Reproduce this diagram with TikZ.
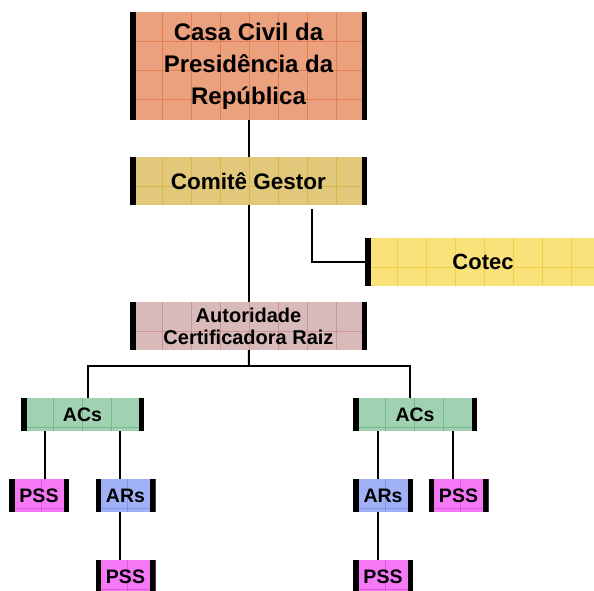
\documentclass[tikz,border=0pt]{standalone}
\usepackage{fontspec}
\setmainfont{Liberation Sans}
\definecolor{casaFill}{RGB}{235,160,126}
\definecolor{casaGrid}{RGB}{218,110,60}
\definecolor{comFill}{RGB}{226,200,122}
\definecolor{comGrid}{RGB}{214,172,50}
\definecolor{cotFill}{RGB}{250,226,122}
\definecolor{cotGrid}{RGB}{236,196,50}
\definecolor{acrFill}{RGB}{216,186,186}
\definecolor{acrGrid}{RGB}{198,128,128}
\definecolor{acsFill}{RGB}{160,210,178}
\definecolor{acsGrid}{RGB}{96,172,124}
\definecolor{pssFill}{RGB}{245,120,245}
\definecolor{pssGrid}{RGB}{216,64,216}
\definecolor{arsFill}{RGB}{160,178,245}
\definecolor{arsGrid}{RGB}{112,132,230}
\begin{document}
\begin{tikzpicture}[x=1pt, y=-1pt, line width=2pt]
	\tikzset{box/.style n args={2}{fill=#1, inner sep=0pt, outer sep=0pt, align=center,
		path picture={
			\foreach \k in {0,...,8}{
				\draw[#2!65!#1, line width=0.6pt] ([xshift=32+29*\k]path picture bounding box.south west) -- ([xshift=32+29*\k]path picture bounding box.north west);
				\draw[#2!65!#1, line width=0.6pt] ([yshift=-29-29*\k]path picture bounding box.north west) -- ([yshift=-29-29*\k]path picture bounding box.north east);
			}
			\fill[black] (path picture bounding box.south west) rectangle ([xshift=5.5]path picture bounding box.north west);
			\fill[black] (path picture bounding box.south east) rectangle ([xshift=-5.5]path picture bounding box.north east);
		}}}
	\tikzset{big/.style={minimum width=237pt, minimum height=48pt}}
	\tikzset{small/.style={minimum width=60pt, minimum height=33pt, font=\bfseries\fontsize{19.5}{22}\selectfont}}

	\useasboundingbox (0,0) rectangle (594,590);

	\node[box={casaFill}{casaGrid}, minimum width=237pt, minimum height=108pt, font=\bfseries\fontsize{24}{32}\selectfont] (casa) at (248.5,66) {Casa Civil da\\Presidência da\\República};
	\node[box={comFill}{comGrid}, big, font=\bfseries\fontsize{22.5}{26}\selectfont] (comite) at (248.5,181) {Comitê Gestor};
	\node[box={cotFill}{cotGrid}, big, minimum width=236pt, font=\bfseries\fontsize{22}{26}\selectfont] (cotec) at (483,262) {Cotec};
	\node[box={acrFill}{acrGrid}, big, font=\bfseries\fontsize{20}{22}\selectfont] (acr) at (248.5,326) {Autoridade\\Certificadora Raiz};

	\node[box={acsFill}{acsGrid}, small, minimum width=123pt] (acsL) at (82.5,414.5) {ACs};
	\node[box={acsFill}{acsGrid}, small, minimum width=124pt] (acsR) at (415,414.5) {ACs};

	\node[box={pssFill}{pssGrid}, small] (pssL) at (39,495.5) {PSS};
	\node[box={arsFill}{arsGrid}, small] (arsL) at (125.5,495.5) {ARs};
	\node[box={pssFill}{pssGrid}, small] (pssLL) at (125.5,576.5) {PSS};
	\node[box={arsFill}{arsGrid}, small] (arsR) at (383,495.5) {ARs};
	\node[box={pssFill}{pssGrid}, small] (pssR) at (458.5,495.5) {PSS};
	\node[box={pssFill}{pssGrid}, small] (pssRL) at (383,576.5) {PSS};

	\coordinate (fork) at (249,366);

	\draw (casa) -- (comite);
	\draw (comite) -- (acr);
	\draw ([xshift=63.5,yshift=-4]comite.south) |- (cotec.west);

	\draw (acr) -- (fork);
	\draw ([xshift=5.5]acsL.north) |- (fork) -| ([xshift=-5]acsR.north);

	\draw ([xshift=6]pssL.north) -- ([xshift=6]pssL.north |- acsL.south);
	\draw ([xshift=-5.5]arsL.north) -- ([xshift=-5.5]arsL.north |- acsL.south);
	\draw ([xshift=-5.5]arsL.south) -- ([xshift=-5.5]pssLL.north);

	\draw ([xshift=-5]arsR.north) -- ([xshift=-5]arsR.north |- acsR.south);
	\draw ([xshift=-5.5]pssR.north) -- ([xshift=-5.5]pssR.north |- acsR.south);
	\draw ([xshift=-5]arsR.south) -- ([xshift=-5]pssRL.north);

\end{tikzpicture}
\end{document}
